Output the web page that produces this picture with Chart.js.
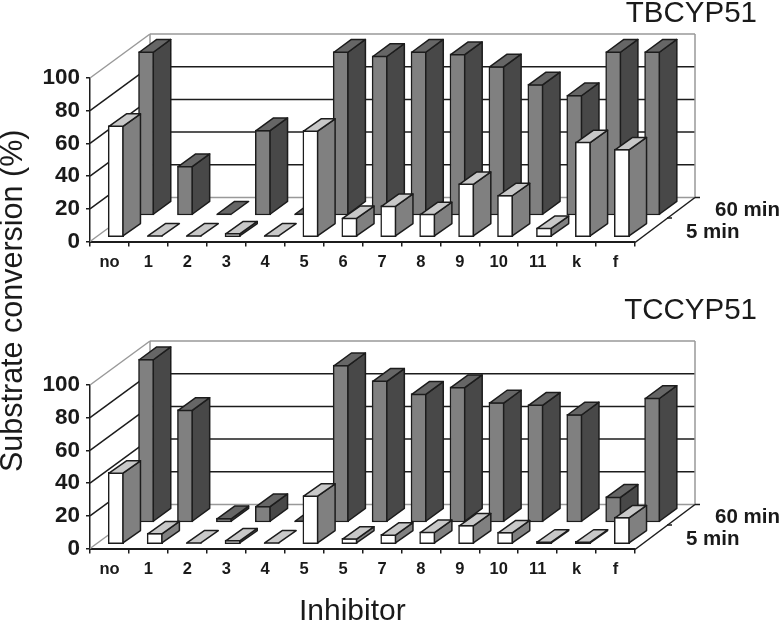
<!DOCTYPE html>
<html>
<head>
<meta charset="utf-8">
<script src="https://cdn.jsdelivr.net/npm/chart.js@4"></script>
<style>
  html, body { margin: 0; background: #fff; }
  body { position: relative; width: 780px; height: 622px; overflow: hidden; font-family: "Liberation Sans", Arial, sans-serif; color: #1a1a1a; }
  canvas { position: absolute; left: 0; }
  #top { top: 0; }
  #bottom { top: 307px; }
  .txt { position: absolute; white-space: nowrap; line-height: 1; }
  .title { font-size: 29.5px; right: 23px; }
  #ylabel { font-size: 30.5px; left: 23px; top: 472px; transform-origin: 0 0; transform: rotate(-90deg) translateY(-27px); }
  #xlabel { font-size: 30px; left: 299px; top: 595px; }
</style>
</head>
<body>
<canvas id="top" width="780" height="300"></canvas>
<canvas id="bottom" width="780" height="300"></canvas>
<div class="txt title" style="top:-3px">TBCYP51</div>
<div class="txt title" style="top:294px">TCCYP51</div>
<div class="txt" id="ylabel">Substrate conversion (%)</div>
<div class="txt" id="xlabel">Inhibitor</div>
<script>
const labelsTb = ['no', '1', '2', '3', '4', '5', '6', '7', '8', '9', '10', '11', 'k', 'f']
const labelsTc = ['no', '1', '2', '3', '4', '5', '5', '7', '8', '9', '10', '11', 'k', 'f']

const tb5 = [68, 0, 0, 2.2, 0, 65, 11.6, 19, 14, 32.5, 25.5, 5.5, 58, 53.6]
const tb60 = [100, 30, 0, 52, 0, 100, 97.4, 100, 98.5, 91, 80, 73.4, 100, 100]
const tc5 = [43.6, 6.5, 0, 2.2, 0, 29.5, 3.3, 5.7, 7.3, 11.4, 7.1, 1.4, 1.4, 16.3]
const tc60 = [99.7, 68.7, 2.4, 9.8, 0, 96, 86.5, 78.5, 82.6, 73.2, 71.8, 65.9, 15.5, 76]

const DEPTH_X = 60
const DEPTH_Y = 44
const DARK = '#1c1c1c'
const GREY = '#999999'
const FONT = '"Liberation Sans", Arial, sans-serif'

// where each row sits on the floor, and how far its boxes extrude
const rows = {
  '5 min': { dx: 6.5, dy: 4.8, ex: 17.5, ey: 12.4, front: '#ffffff', side: '#808080', top: '#c8c8c8' },
  '60 min': { dx: 36.8, dy: 26.5, ex: 17.5, ey: 12.8, front: '#808080', side: '#484848', top: '#666666' },
}

function line(ctx, x1, y1, x2, y2, color, width) {
  ctx.strokeStyle = color
  ctx.lineWidth = width
  ctx.beginPath()
  ctx.moveTo(x1, y1)
  ctx.lineTo(x2, y2)
  ctx.stroke()
}

function poly(ctx, pts, fill) {
  ctx.fillStyle = fill
  ctx.strokeStyle = DARK
  ctx.lineWidth = 1.5
  ctx.lineJoin = 'round'
  ctx.beginPath()
  pts.forEach((p, i) => (i ? ctx.lineTo(p[0], p[1]) : ctx.moveTo(p[0], p[1])))
  ctx.closePath()
  ctx.fill()
  ctx.stroke()
}

const box3d = {
  id: 'box3d',
  beforeDatasetsDraw(chart) {
    const { ctx, chartArea: a, scales: { y } } = chart
    ctx.save()
    y.ticks.forEach(t => {
      const py = y.getPixelForValue(t.value)
      const edge = t.value === 0 || t.value === 100
      const color = edge ? GREY : DARK
      line(ctx, a.left, py, a.left + DEPTH_X, py - DEPTH_Y, color, 1.5)
      line(ctx, a.left + DEPTH_X, py - DEPTH_Y, a.right + DEPTH_X, py - DEPTH_Y, color, 1.5)
    })
    const x2 = a.right + DEPTH_X
    line(ctx, a.left + DEPTH_X, a.top - DEPTH_Y, a.left + DEPTH_X, a.bottom - DEPTH_Y, GREY, 1.5)
    line(ctx, x2, a.top - DEPTH_Y, x2, a.bottom - DEPTH_Y, GREY, 1.5)
    // right floor edge with its two depth ticks
    line(ctx, a.right, a.bottom + 1, x2, a.bottom - DEPTH_Y, DARK, 1.5)
    line(ctx, x2, a.bottom - DEPTH_Y, x2 + 5, a.bottom - DEPTH_Y, DARK, 1.5)
    line(ctx, a.right + 32, a.bottom - 23.5, a.right + 37, a.bottom - 23.5, DARK, 1.5)
    ctx.font = 'bold 20.5px ' + FONT
    ctx.textBaseline = 'alphabetic'
    ctx.fillStyle = '#1a1a1a'
    ctx.fillText(chart.data.datasets[1].label, a.right + 80, a.bottom - 25.5)
    ctx.fillText(chart.data.datasets[0].label, a.right + 51, a.bottom - 3.5)
    ctx.restore()
  },
  beforeDatasetDraw(chart, args) {
    const row = rows[chart.data.datasets[args.index].label]
    chart.ctx.save()
    chart.ctx.translate(row.dx, -row.dy)
  },
  afterDatasetDraw(chart, args) {
    const ctx = chart.ctx
    const row = rows[chart.data.datasets[args.index].label]
    args.meta.data.forEach(el => {
      const l = el.x - el.width / 2 + 0.75
      const r = el.x + el.width / 2 - 0.75
      const b = el.base - 0.75
      const t = Math.min(el.y + 0.75, b)
      if (b > t) {
        poly(ctx, [[r, b], [r + row.ex, b - row.ey], [r + row.ex, t - row.ey], [r, t]], row.side)
      }
      poly(ctx, [[l, t], [r, t], [r + row.ex, t - row.ey], [l + row.ex, t - row.ey]], row.top)
    })
    ctx.restore()
  },
}

function makeChart(id, labels, five, sixty) {
  const dataset = (label, data) => ({
    label,
    data,
    // a hair below 0 so chart.js does not pull the base up by half a grid line
    base: -0.01,
    backgroundColor: rows[label].front,
    borderColor: DARK,
    borderWidth: 1.5,
    borderSkipped: false,
    clip: false,
    barThickness: 15.5,
  })
  return new Chart(document.getElementById(id), {
    type: 'bar',
    data: { labels, datasets: [dataset('5 min', five), dataset('60 min', sixty)] },
    plugins: [box3d],
    options: {
      responsive: false,
      animation: false,
      layout: { padding: { top: 78, right: 145, left: 0, bottom: 0 } },
      plugins: { legend: { display: false }, title: { display: false }, tooltip: { enabled: false } },
      scales: {
        x: {
          stacked: false,
          grid: { drawOnChartArea: false, offset: true, color: DARK, lineWidth: 1.5, tickLength: 5 },
          border: { color: DARK, width: 2 },
          ticks: {
            color: '#1a1a1a',
            font: { family: FONT, size: 16.5, weight: 'bold' },
            autoSkip: false,
            maxRotation: 0,
            padding: 6,
          },
          afterFit: s => { s.height = 58.5 },
        },
        y: {
          min: 0,
          max: 100,
          grid: { drawOnChartArea: false, color: DARK, lineWidth: 1.5, tickLength: 4 },
          border: { color: DARK, width: 1.5 },
          ticks: {
            stepSize: 20,
            color: '#1a1a1a',
            font: { family: FONT, size: 22.5, weight: 'bold' },
            padding: 6,
          },
          afterFit: s => { s.width = 90 },
        },
      },
      datasets: { bar: { grouped: false } },
    },
  })
}

makeChart('top', labelsTb, tb5, tb60)
makeChart('bottom', labelsTc, tc5, tc60)
</script>
</body>
</html>
